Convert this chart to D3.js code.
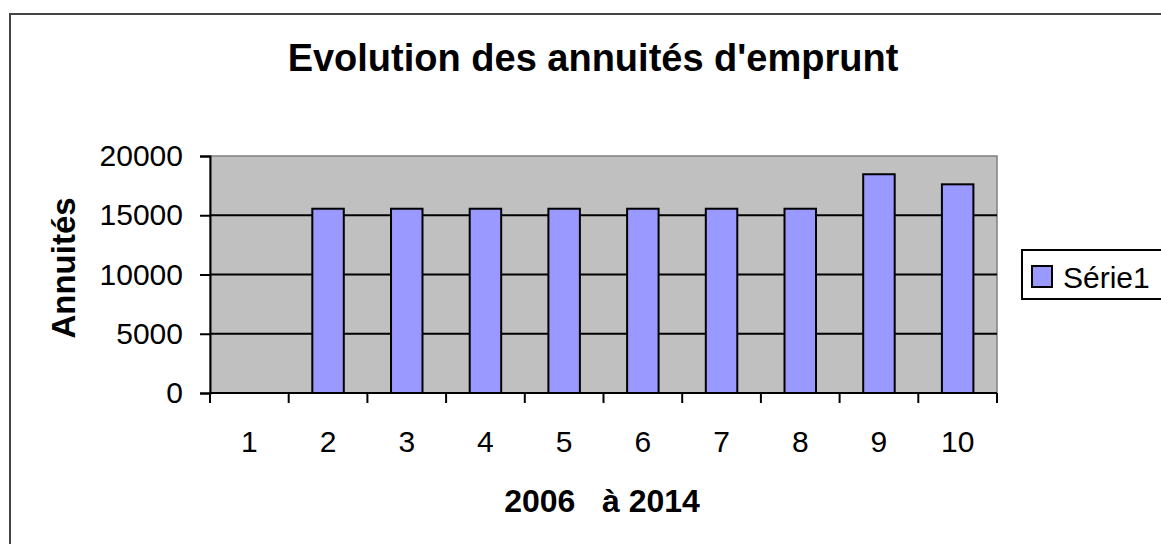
<!DOCTYPE html>
<html>
<head>
<meta charset="utf-8">
<script src="https://cdn.jsdelivr.net/npm/d3@7"></script>
<style>
  body { margin: 0; background: #fff; }
  text { font-family: "Liberation Sans", Arial, sans-serif; }
</style>
</head>
<body>
<script>
const categories = ["1", "2", "3", "4", "5", "6", "7", "8", "9", "10"];
const annuites = [0, 15550, 15550, 15550, 15550, 15550, 15550, 15550, 18460, 17610];
const yTicks = [0, 5000, 10000, 15000, 20000];
const seriesName = "Série1";

const W = 1161, H = 544;
const plot = { left: 210, top: 156, right: 997, bottom: 393 };

const svg = d3.select("body").append("svg")
  .attr("width", W).attr("height", H);

// cadre du graphique
svg.append("rect")
  .attr("x", 10).attr("y", 14)
  .attr("width", W).attr("height", H)
  .attr("fill", "#fff").attr("stroke", "#444").attr("stroke-width", 2);

const x = d3.scaleBand()
  .domain(categories)
  .range([plot.left, plot.right])
  .paddingInner(0.6).paddingOuter(0.3);
const xEdge = d3.scaleBand().domain(categories).range([plot.left, plot.right]);

const y = d3.scaleLinear().domain([0, 20000]).range([plot.bottom, plot.top]);

svg.append("rect")
  .attr("x", plot.left).attr("y", plot.top)
  .attr("width", plot.right - plot.left).attr("height", plot.bottom - plot.top)
  .attr("fill", "#c0c0c0").attr("stroke", "#808080").attr("stroke-width", 1.5);

// quadrillage
svg.append("g").selectAll("line")
  .data(yTicks.filter(d => d > 0 && d < 20000))
  .enter().append("line")
    .attr("x1", plot.left).attr("x2", plot.right)
    .attr("y1", d => y(d)).attr("y2", d => y(d))
    .attr("stroke", "#000").attr("stroke-width", 2);

// barres
svg.append("g").selectAll("rect")
  .data(annuites.map((v, i) => ({ cat: categories[i], v })).filter(d => d.v > 0))
  .enter().append("rect")
    .attr("x", d => x(d.cat))
    .attr("y", d => y(d.v))
    .attr("width", x.bandwidth())
    .attr("height", d => y(0) - y(d.v))
    .attr("fill", "#9999ff").attr("stroke", "#000").attr("stroke-width", 2);

// axe Y
const yAxis = svg.append("g")
  .attr("transform", `translate(${plot.left},0)`)
  .call(d3.axisLeft(y).tickValues(yTicks).tickSize(10).tickPadding(17).tickFormat(d3.format("d")));
yAxis.select(".domain").attr("stroke", "#000").attr("stroke-width", 2);
yAxis.selectAll(".tick line").attr("stroke", "#000").attr("stroke-width", 2);
yAxis.selectAll(".tick text").attr("font-size", 30).attr("fill", "#000")
  .attr("font-family", "Liberation Sans, Arial, sans-serif");

// axe X
const xAxisG = svg.append("g").attr("transform", `translate(0,${plot.bottom})`);
xAxisG.append("line")
  .attr("x1", plot.left).attr("x2", plot.right)
  .attr("stroke", "#000").attr("stroke-width", 2);
xAxisG.selectAll(".tk")
  .data(categories.concat(["end"]))
  .enter().append("line")
    .attr("x1", d => d === "end" ? plot.right : xEdge(d))
    .attr("x2", d => d === "end" ? plot.right : xEdge(d))
    .attr("y1", 0).attr("y2", 10)
    .attr("stroke", "#000").attr("stroke-width", 2);
xAxisG.selectAll(".lbl")
  .data(categories)
  .enter().append("text")
    .attr("x", d => xEdge(d) + xEdge.bandwidth() / 2)
    .attr("y", 59)
    .attr("text-anchor", "middle")
    .attr("font-size", 30)
    .text(d => d);

// titres
svg.append("text")
  .attr("x", 593).attr("y", 71)
  .attr("text-anchor", "middle")
  .attr("font-size", 38).attr("font-weight", "bold")
  .text("Evolution des annuités d'emprunt");

svg.append("text")
  .attr("x", 602).attr("y", 512)
  .attr("text-anchor", "middle")
  .attr("font-size", 32).attr("font-weight", "bold")
  .attr("xml:space", "preserve")
  .style("white-space", "pre")
  .text("2006   à 2014");

svg.append("text")
  .attr("transform", "translate(75,268) rotate(-90)")
  .attr("text-anchor", "middle")
  .attr("font-size", 33).attr("font-weight", "bold")
  .text("Annuités");

// légende
const leg = svg.append("g").attr("transform", "translate(1022,250)");
leg.append("rect")
  .attr("width", 160).attr("height", 49)
  .attr("fill", "#fff").attr("stroke", "#000").attr("stroke-width", 2);
leg.append("rect")
  .attr("x", 10).attr("y", 16).attr("width", 20).attr("height", 21)
  .attr("fill", "#9999ff").attr("stroke", "#000").attr("stroke-width", 2);
leg.append("text")
  .attr("x", 41).attr("y", 38)
  .attr("font-size", 30)
  .text(seriesName);
</script>
</body>
</html>
